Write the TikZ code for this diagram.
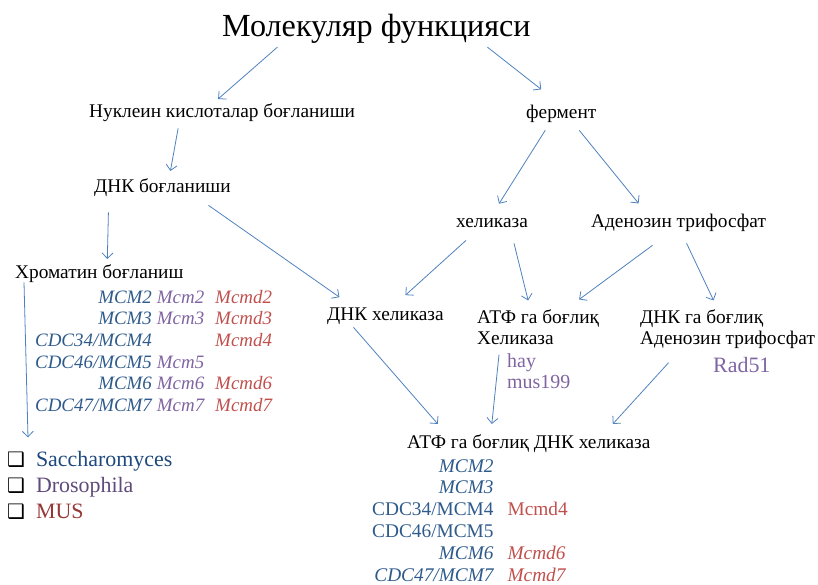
\documentclass[tikz,border=0pt]{standalone}
\usepackage{array}
\usepackage{fontspec}
\setmainfont{Liberation Serif}
\newfontfamily\boxfont{DejaVu Sans}
\usetikzlibrary{arrows.meta,calc}
\definecolor{arrowblue}{HTML}{4F81BD}
\definecolor{geneblue}{HTML}{2E5B8C}
\definecolor{genepurple}{HTML}{8064A2}
\definecolor{genered}{HTML}{C0504D}
\definecolor{orgblue}{HTML}{1F497D}
\definecolor{orgpurple}{HTML}{604A7B}
\definecolor{orgred}{HTML}{953735}
\tikzstyle{every node}=[inner sep=0pt,anchor=base west]
\tikzstyle{term}=[font=\fontsize{19.4}{22}\selectfont]
\tikzstyle{genes}=[font=\fontsize{19}{21.8}\selectfont\itshape]
\tikzstyle{link}=[draw=arrowblue,line width=0.8bp,-{Straight Barb[length=5.5bp,width=11bp]}]

\begin{document}
\begin{tikzpicture}[x=1bp,y=-1bp]
\useasboundingbox (0,0) rectangle (818,585);
\node[font=\fontsize{32.3}{38}\selectfont] (title) at (222,37) {Молекуляр функцияси};
\node[term] (nuk) at (89,118) {Нуклеин кислоталар боғланиши};
\node[term] (ferm) at (526,119) {фермент};
\node[term] (dnkb) at (94,193) {ДНК боғланиши};
\node[term] (hel) at (456,228) {хеликаза};
\node[term] (aden) at (591,228) {Аденозин трифосфат};
\node[term] (chrom) at (15,278) {Хроматин боғланиш};
\node[term] (dnkhel) at (327,320) {ДНК хеликаза};
\node[term] (atfhel) at (477,323) {\begin{tabular}[t]{@{}l@{}}АТФ га боғлиқ\\Хеликаза\end{tabular}};
\node[term] (dnkatf) at (640,323) {\begin{tabular}[t]{@{}l@{}}ДНК га боғлиқ\\Аденозин трифосфат\end{tabular}};
\node[font=\fontsize{22}{26}\selectfont,text=genepurple] (rad) at (713,372) {Rad51};
\node[font=\fontsize{20}{22}\selectfont,text=genepurple] (haymus) at (507,367) {\begin{tabular}[t]{@{}l@{}}hay\\mus199\end{tabular}};
\node[term] (atfdnk) at (407,448) {АТФ га боғлиқ ДНК хеликаза};
\node[genes] (leftgenes) at (35,303) {\begin{tabular}[t]{@{}>{\color{geneblue}}r@{\hspace{5bp}}>{\color{genepurple}}l@{\hspace{11bp}}>{\color{genered}}r@{}}
MCM2 & Mcm2 & Mcmd2\\
MCM3 & Mcm3 & Mcmd3\\
CDC34/MCM4 & & Mcmd4\\
CDC46/MCM5 & Mcm5 & \\
MCM6 & Mcm6 & Mcmd6\\
CDC47/MCM7 & Mcm7 & Mcmd7
\end{tabular}};
\node[term] (bottomgenes) at (372,472) {\begin{tabular}[t]{@{}>{\color{geneblue}}r@{\hspace{14bp}}>{\color{genered}}l@{}}
\itshape MCM2 & \\
\itshape MCM3 & \\
CDC34/MCM4 & Mcmd4\\
CDC46/MCM5 & \\
\itshape MCM6 & \itshape Mcmd6\\
\itshape CDC47/MCM7 & \itshape Mcmd7
\end{tabular}};
\node[font=\fontsize{22}{26.5}\selectfont] (orgs) at (7,466) {\begin{tabular}[t]{@{}l@{\hspace{11bp}}l@{}}
{\boxfont\fontsize{20}{20}\selectfont ❑} & \color{orgblue}Saccharomyces\\
{\boxfont\fontsize{20}{20}\selectfont ❑} & \color{orgpurple}Drosophila\\
{\boxfont\fontsize{20}{20}\selectfont ❑} & \color{orgred}MUS
\end{tabular}};
\draw[link] ($(title.south)+(-99,3)$) -- ($(nuk.north)+(-4,-5)$);
\draw[link] ($(title.south)+(111,3)$) -- ($(ferm.north)+(-20,-16)$);
\draw[link] ($(nuk.south)+(-44,6)$) -- ($(dnkb.north)+(8,-8)$);
\draw[link] ($(dnkb.south)+(46,8)$) -- ($(dnkhel.north)+(-46,-10)$);
\draw[link] ($(dnkb.south)+(-54,15)$) -- ($(chrom.north)+(8,-5)$);
\draw[link] ($(ferm.south)+(-16,7)$) -- ($(hel.north)+(7,-15)$);
\draw[link] ($(ferm.south)+(18,7)$) -- ($(aden.north)+(-40,-11)$);
\draw[link] ($(hel.south)+(-26,12)$) -- ($(dnkhel.north)+(20,-12)$);
\draw[link] ($(hel.south)+(22,15)$) -- ($(atfhel.north)+(-10,-7)$);
\draw[link] ($(aden.south)+(-26,13)$) -- ($(atfhel.north)+(41,-8)$);
\draw[link] ($(aden.south)+(8,11)$) -- ($(dnkatf.north)+(-14,-7)$);
\draw[link] ($(chrom.south west)+(9,0)$) -- ($(orgs.north west)+(21,-10)$);
\draw[link] ($(dnkhel.south)+(-32,3)$) -- ($(atfdnk.north)+(-91,-10)$);
\draw[link] ($(atfhel.south west)+(22,3)$) -- ($(atfdnk.north)+(-37,-10)$);
\draw[link] ($(dnkatf.south)+(-59,11)$) -- ($(atfdnk.north)+(84,-10)$);
\end{tikzpicture}
\end{document}
